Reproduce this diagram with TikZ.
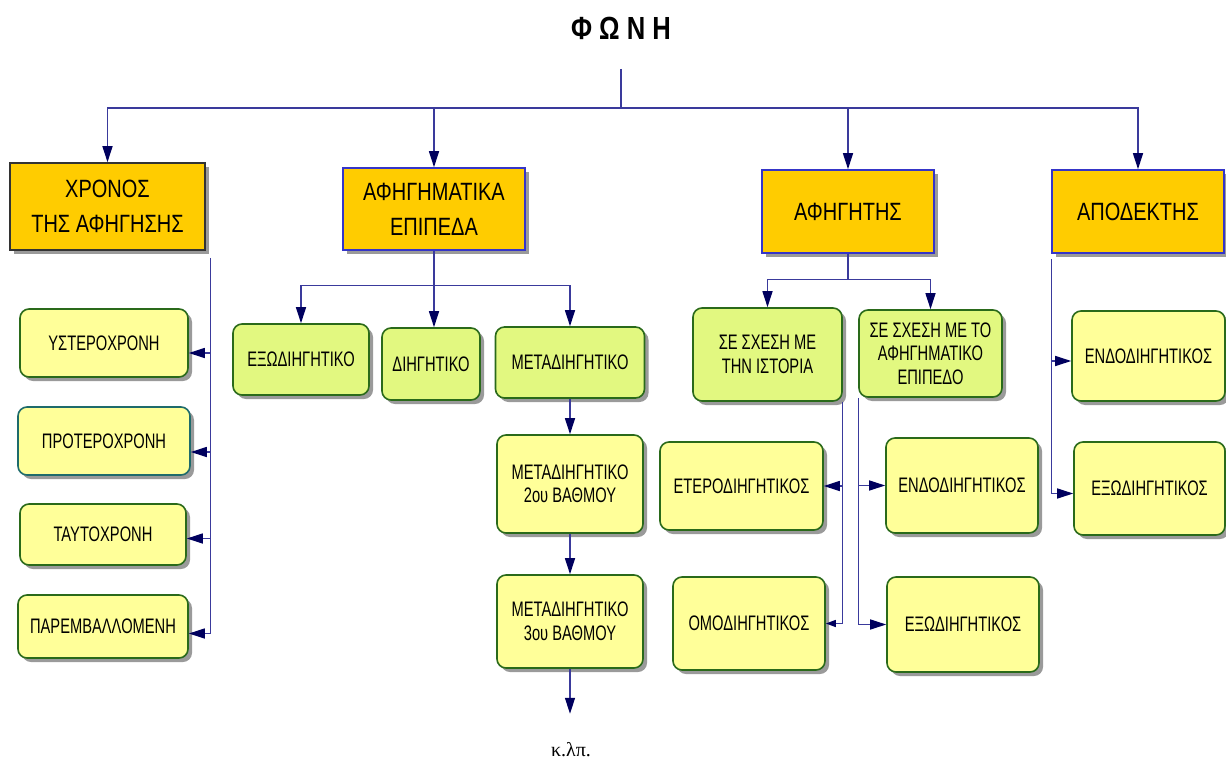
\documentclass[tikz,border=0pt]{standalone}
\usepackage{fontspec}
\setmainfont{Liberation Sans}[FakeStretch=0.7]
\newfontfamily\titlefont{Liberation Sans}[FakeStretch=0.8]
\newfontfamily\serifgr{Liberation Serif}
\usetikzlibrary{arrows.meta,shadows,calc}

\definecolor{topfill}{HTML}{FFCC00}
\definecolor{limefill}{HTML}{E2F880}
\definecolor{paleyellow}{HTML}{FFFF99}
\definecolor{boxgreen}{HTML}{2A6A1A}
\definecolor{tealedge}{HTML}{1E6B6B}
\definecolor{edgeblue}{HTML}{3535C8}
\definecolor{wire}{HTML}{3A3A9C}
\definecolor{tipnavy}{HTML}{00005E}
\definecolor{shade}{HTML}{9A9A9A}

\tikzset{
  base/.style={draw, line width=1.6pt, inner sep=2pt, align=center, text=black,
    drop shadow={shadow xshift=4pt, shadow yshift=-4pt, fill=shade, opacity=1}},
  topbox/.style={base, rectangle, fill=topfill, draw=edgeblue,
    font=\titlefont\fontsize{25}{35}\selectfont},
  limebox/.style={base, rounded corners=9pt, fill=limefill, draw=boxgreen,
    font=\fontsize{21}{23.5}\selectfont},
  yelbox/.style={limebox, fill=paleyellow},
  wireline/.style={draw=wire, line width=1.3pt},
  arr/.style={wireline, -{Triangle[length=16pt,width=10pt,fill=tipnavy,color=tipnavy]}},
  arrsmall/.style={wireline, -{Triangle[length=10pt,width=7pt,fill=tipnavy,color=tipnavy]}},
}

\begin{document}
\begin{tikzpicture}[x=1pt,y=-1pt]
\useasboundingbox (0,0) rectangle (1226,760);

% title
\node (title) at (621,28) {\titlefont\bfseries\fontsize{32}{36}\selectfont Φ Ω Ν Η};

% main categories
\node[topbox, draw=black!80, minimum width=195pt, minimum height=87pt] (chronos) at (107.5,206.5) {ΧΡΟΝΟΣ\\ΤΗΣ ΑΦΗΓΗΣΗΣ};
\node[topbox, minimum width=182pt, minimum height=82pt] (epipeda) at (434,209) {ΑΦΗΓΗΜΑΤΙΚΑ\\ΕΠΙΠΕΔΑ};
\node[topbox, minimum width=172pt, minimum height=83pt] (afig) at (848,211.5) {ΑΦΗΓΗΤΗΣ};
\node[topbox, minimum width=172pt, minimum height=83pt] (apod) at (1138,211.5) {ΑΠΟΔΕΚΤΗΣ};

% time of narration
\node[yelbox, minimum width=168pt, minimum height=68pt] (yster) at (104,343) {ΥΣΤΕΡΟΧΡΟΝΗ};
\node[yelbox, draw=tealedge, minimum width=172pt, minimum height=68pt] (proter) at (104,441) {ΠΡΟΤΕΡΟΧΡΟΝΗ};
\node[yelbox, minimum width=166pt, minimum height=61pt] (taut) at (103,534.5) {ΤΑΥΤΟΧΡΟΝΗ};
\node[yelbox, minimum width=170pt, minimum height=63pt] (parem) at (103,626.5) {ΠΑΡΕΜΒΑΛΛΟΜΕΝΗ};

% narrative levels
\node[limebox, minimum width=136pt, minimum height=71pt] (exo1) at (301,359.5) {ΕΞΩΔΙΗΓΗΤΙΚΟ};
\node[limebox, minimum width=98pt, minimum height=72pt] (dieg) at (431,364) {ΔΙΗΓΗΤΙΚΟ};
\node[limebox, minimum width=149pt, minimum height=71pt] (meta) at (570,362.5) {ΜΕΤΑΔΙΗΓΗΤΙΚΟ};
\node[yelbox, minimum width=146pt, minimum height=98pt] (meta2) at (570,484) {ΜΕΤΑΔΙΗΓΗΤΙΚΟ\\2ου ΒΑΘΜΟΥ};
\node[yelbox, minimum width=146pt, minimum height=93pt] (meta3) at (570,621.5) {ΜΕΤΑΔΙΗΓΗΤΙΚΟ\\3ου ΒΑΘΜΟΥ};
\node (etc) at (571,750) {\serifgr\fontsize{20}{24}\selectfont κ.λπ.};

% narrator
\node[limebox, minimum width=149pt, minimum height=93pt] (istoria) at (767.5,354.5) {ΣΕ ΣΧΕΣΗ ΜΕ\\ΤΗΝ ΙΣΤΟΡΙΑ};
\node[limebox, minimum width=143pt, minimum height=87pt] (epip) at (930.5,353.5) {ΣΕ ΣΧΕΣΗ ΜΕ ΤΟ\\ΑΦΗΓΗΜΑΤΙΚΟ\\ΕΠΙΠΕΔΟ};
\node[yelbox, minimum width=163pt, minimum height=88pt] (etero) at (741.5,486) {ΕΤΕΡΟΔΙΗΓΗΤΙΚΟΣ};
\node[yelbox, minimum width=152pt, minimum height=93pt] (omo) at (749,623.5) {ΟΜΟΔΙΗΓΗΤΙΚΟΣ};
\node[yelbox, minimum width=152pt, minimum height=95pt] (endo2) at (962,485.5) {ΕΝΔΟΔΙΗΓΗΤΙΚΟΣ};
\node[yelbox, minimum width=152pt, minimum height=95pt] (exo2) at (963,624.5) {ΕΞΩΔΙΗΓΗΤΙΚΟΣ};

% addressee
\node[yelbox, minimum width=153pt, minimum height=90pt] (endo3) at (1148.5,356) {ΕΝΔΟΔΙΗΓΗΤΙΚΟΣ};
\node[yelbox, minimum width=151pt, minimum height=93pt] (exo3) at (1149.5,488.5) {ΕΞΩΔΙΗΓΗΤΙΚΟΣ};

% top bus
\coordinate (stem) at (621,69);
\coordinate (bus) at (621,108);
\draw[wireline] (stem) -- (bus);
\draw[arr] (bus) -| (chronos.north);
\draw[arr] (bus) -| (epipeda.north);
\draw[arr] (bus) -| (afig.north);
\draw[arr] (bus) -| (apod.north);

% time of narration branch
\coordinate (l1) at ($(chronos.south east)+(5,7)$);
\draw[arr] (l1) |- ([yshift=-7pt]parem.east);
\draw[arr] ([yshift=-10pt]yster.east -| l1) -- ([yshift=-10pt]yster.east);
\draw[arr] ([yshift=-11pt]proter.east -| l1) -- ([yshift=-11pt]proter.east);
\draw[arr] ([yshift=-4pt]taut.east -| l1) -- ([yshift=-4pt]taut.east);

% narrative levels branch
\coordinate (b2) at ($(epipeda.south)+(0,35)$);
\draw[wireline] (epipeda.south) -- (b2);
\draw[arr] (b2) -| (exo1.north);
\draw[arr] (b2) -- (b2 |- dieg.north);
\draw[arr] (b2) -| (meta.north);
\draw[arr] (meta) -- (meta2);
\draw[arr] (meta2) -- (meta3);
\coordinate (moreend) at ($(meta3.south)+(0,45)$);
\draw[arr] (meta3.south) -- (moreend);

% narrator branch
\coordinate (b3) at ($(afig.south)+(0,26)$);
\draw[wireline] (afig.south) -- (b3);
\draw[arr] (b3) -| (istoria.north);
\draw[arr] (b3) -| (epip.north);
\draw[arrsmall] (istoria.south east) |- (omo.east);
\draw[arr] (istoria.south east |- etero.east) -- (etero.east);
\draw[arr] (epip.south west) |- (exo2.west);
\draw[arr] (epip.south west |- endo2.west) -- (endo2.west);

% addressee branch
\coordinate (a4) at ($(apod.south west)+(0,5)$);
\draw[arr] (a4) |- ([yshift=-5pt]exo3.west);
\draw[arr] ([yshift=-5pt]endo3.west -| a4) -- ([yshift=-5pt]endo3.west);
\end{tikzpicture}
\end{document}
